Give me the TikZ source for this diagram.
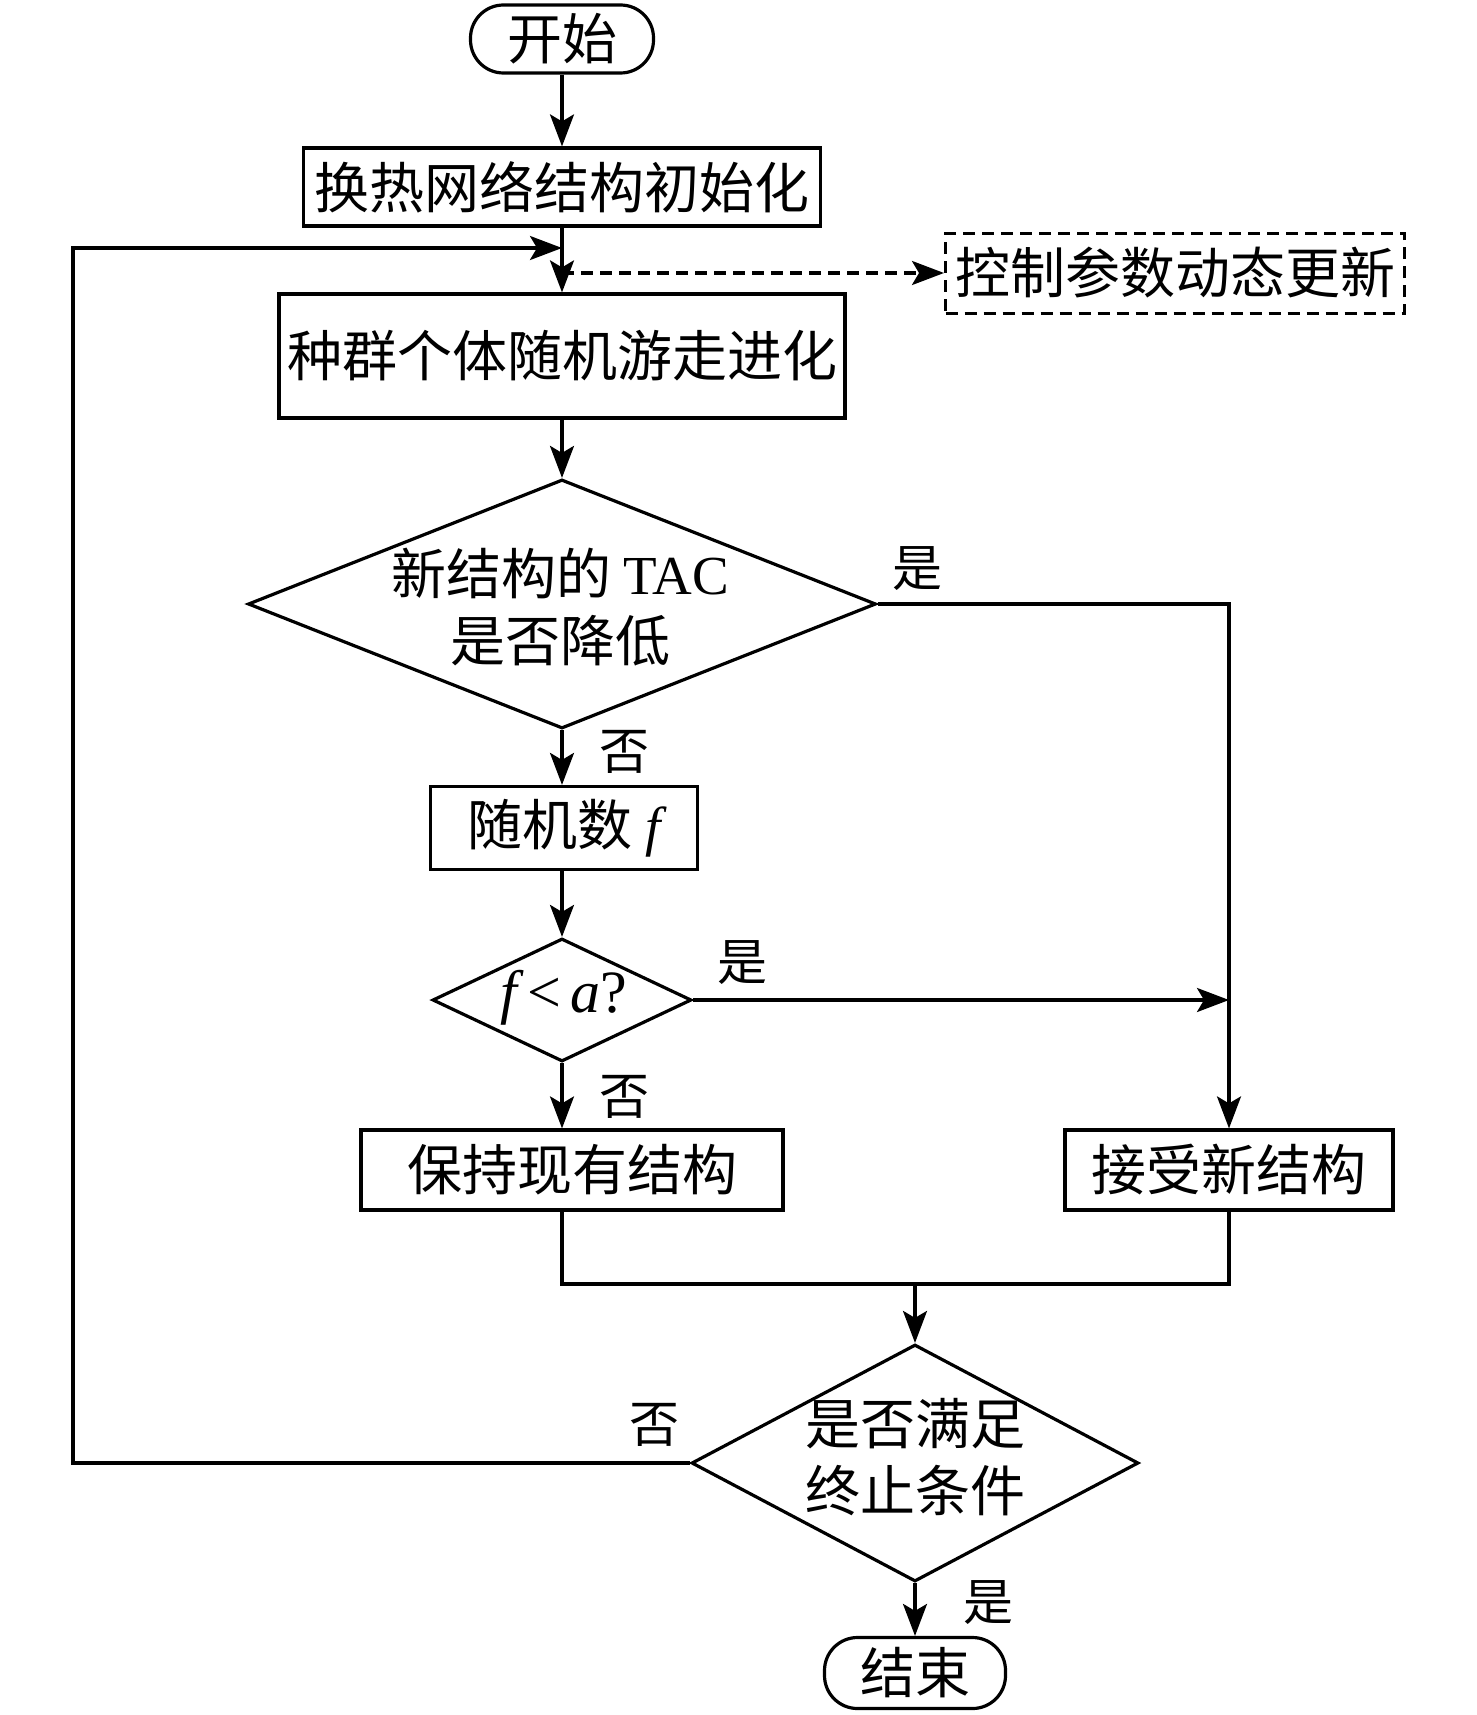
\documentclass[tikz,border=0pt]{standalone}
\usepackage{fontspec}
\setmainfont{Liberation Serif}
\newfontfamily\cjk{Noto Sans CJK SC}
\usetikzlibrary{shapes.geometric,arrows.meta}
\begin{document}
\begin{tikzpicture}[x=1pt,y=-1pt,line width=3.2pt,
  box/.style={draw,rectangle,inner sep=0pt,font=\fontsize{55}{67}\selectfont\cjk},
  term/.style={box,rounded corners=33pt},
  dec/.style={draw,diamond,inner sep=0pt},
  dtext/.style={inner sep=0pt,align=center,font=\fontsize{55}{67}\selectfont\cjk},
  lbl/.style={inner sep=0pt,font=\fontsize{50}{60}\selectfont\cjk},
  arr/.style={-{Stealth[length=32pt,width=24pt,inset=7pt]}},
  dashbox/.style={box,dash pattern=on 12pt off 7pt,line width=3pt},
]
\useasboundingbox (0,0) rectangle (1476,1715);
\node[term,minimum width=183pt,minimum height=68pt] (start) at (562,39) {开始};
\node[box,minimum width=517pt,minimum height=78pt] (init) at (562,187) {换热网络结构初始化};
\node[box,minimum width=566pt,minimum height=124pt] (evo) at (562,356) {种群个体随机游走进化};
\node[dashbox,minimum width=459pt,minimum height=80pt] (ctrl) at (1175,273) {控制参数动态更新};
\node[dec,minimum width=628pt,minimum height=249pt] (d1) at (562,604) {};
\node[dtext] (d1t) at (560,607) {{\cjk 新结构的}\ {\rmfamily TAC}\\是否降低};
\node[box,minimum width=267pt,minimum height=83pt] (rnd) at (564,828) {随机数\ {\rmfamily\itshape f}};
\node[dec,minimum width=259pt,minimum height=123pt] (d2) at (562,1000) {};
\node[inner sep=0pt,font=\fontsize{60}{66}\selectfont] (d2t) at (564,998) {\itshape f\,\upshape<\,\itshape a\upshape?};
\node[box,minimum width=422pt,minimum height=80pt] (keep) at (572,1170) {保持现有结构};
\node[box,minimum width=328pt,minimum height=80pt] (acc) at (1229,1170) {接受新结构};
\node[dec,minimum width=447pt,minimum height=237pt] (d3) at (915,1463) {};
\node[dtext] (d3t) at (915,1457) {是否满足\\终止条件};
\node[term,minimum width=181pt,minimum height=71pt] (stop) at (915,1673) {结束};
% labels
\node[lbl] (l1) at (917,569) {是};
\node[lbl] (l2) at (624,752) {否};
\node[lbl] (l3) at (742,963) {是};
\node[lbl] (l4) at (624,1097) {否};
\node[lbl] (l5) at (654,1425) {否};
\node[lbl] (l6) at (988,1603) {是};
% coordinates
\coordinate (lc) at (73,248);
\coordinate (j1) at (562,248);
\coordinate (j2) at (562,273);
\coordinate (m) at (915,1284);
% connectors
\draw[arr] (start) -- (init);
\draw[arr] (init) -- (evo);
\draw[arr,dash pattern=on 12pt off 7pt] (j2) -- (ctrl.west);
\draw[arr] (evo) -- (d1);
\draw[arr] (d1.east) -| (acc.north);
\draw[arr] (d1.south) -- (d1.south |- rnd.north);
\draw[arr] (d1.south |- rnd.south) -- (d2.north);
\draw[arr] (d2.east) -- (d2.east -| acc.north);
\draw[arr] (d2.south) -- (d2.south |- keep.north);
\draw (d2.south |- keep.south) |- (m) -| (acc.south);
\draw[arr] (m) -- (d3.north);
\draw[arr] (d3.west) -| (lc) -- (j1);
\draw[arr] (d3.south) -- (stop.north);
\end{tikzpicture}
\end{document}
